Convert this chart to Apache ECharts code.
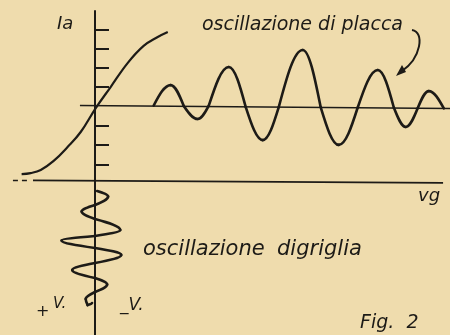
<!DOCTYPE html>
<html>
<head>
<meta charset="utf-8">
<script src="https://cdn.jsdelivr.net/npm/echarts@6/dist/echarts.min.js"></script>
<style>
  html, body { margin: 0; padding: 0; background: #efdcad; }
  #fig2 { width: 450px; height: 335px; }
</style>
</head>
<body>
<div id="fig2"></div>
<script>
  // Ia axis tick positions (mA, arbitrary units)
  const iaTicks = [-3, -2, -1, 1, 2, 3, 4];

  // characteristic curve Ia(Vg)
  const characteristic = [
    [-3.80, -3.50], [-3.33, -3.45], [-2.81, -3.29], [-2.14, -2.82],
    [-1.42, -2.10], [-0.74, -1.32], [0.04, -0.08], [0.81, 1.01],
    [1.69, 2.25], [2.52, 3.14], [3.25, 3.60], [3.77, 3.86]
  ];

  // plate oscillation: zero crossings and peaks, alternating
  const plateOsc = [
    [3.04, 0.05], [3.92, 1.11], [4.60, 0.03], [5.32, -0.65], [5.89, 0.03],
    [6.93, 2.05], [7.81, -0.03], [8.69, -1.74], [9.52, -0.03], [10.76, 2.93],
    [11.69, -0.03], [12.63, -1.99], [13.61, -0.05], [14.65, 1.89], [15.48, -0.05],
    [16.10, -1.06], [16.72, -0.08], [17.29, 0.80], [18.07, -0.10]
  ];

  // grid oscillation along the Ia axis: crossings and peaks, alternating
  const gridOsc = [
    [0.11, -4.38], [0.68, -4.66], [0, -5.10], [-0.69, -5.44], [0, -5.83],
    [1.31, -6.40], [0, -6.71], [-1.73, -6.94], [0, -7.33], [1.36, -7.69],
    [0, -8.11], [-1.18, -8.47], [0, -8.89], [0.63, -9.22], [0, -9.61],
    [-0.48, -9.97], [-0.38, -10.29], [-0.15, -10.18]
  ];

  // reference lines
  const plateZero = [[-0.78, 0.05], [18.39, -0.10]];
  const vgAxis = [[-3.21, -3.83], [18.03, -3.96]];
  const vgAxisDash = [[-4.25, -3.83], [-3.47, -3.83]];

  const ink = '#1d1b17';
  const myChart = echarts.init(document.getElementById('fig2'));

  function line(data, width, extra) {
    return Object.assign({
      type: 'line',
      data: data,
      symbol: 'none',
      silent: true,
      lineStyle: { color: ink, width: width }
    }, extra || {});
  }

  // sine-like wave through alternating crossing / peak nodes,
  // one bezier per pair of nodes; alongX = time runs along x
  function wave(nodes, alongX, width) {
    return {
      type: 'custom',
      data: nodes,
      silent: true,
      renderItem: function (params, api) {
        const i = params.dataIndex;
        if (i === 0) return { type: 'group', children: [] };
        const a = api.coord(nodes[i - 1]);
        const b = api.coord([api.value(0), api.value(1)]);
        const dx = b[0] - a[0];
        const dy = b[1] - a[1];
        const fromCross = (i - 1) % 2 === 0;
        let c1, c2;
        if (alongX) {
          c1 = fromCross ? [a[0] + 0.33 * dx, a[1] + 0.52 * dy] : [a[0] + 0.36 * dx, a[1]];
          c2 = fromCross ? [b[0] - 0.36 * dx, b[1]] : [b[0] - 0.33 * dx, b[1] - 0.52 * dy];
        } else {
          c1 = fromCross ? [a[0] + 0.52 * dx, a[1] + 0.33 * dy] : [a[0], a[1] + 0.36 * dy];
          c2 = fromCross ? [b[0], b[1] - 0.36 * dy] : [b[0] - 0.52 * dx, b[1] - 0.33 * dy];
        }
        return {
          type: 'bezierCurve',
          shape: {
            x1: a[0], y1: a[1], cpx1: c1[0], cpy1: c1[1],
            cpx2: c2[0], cpy2: c2[1], x2: b[0], y2: b[1]
          },
          style: { stroke: ink, lineWidth: width, fill: null, lineCap: 'round' }
        };
      }
    };
  }

  // x = left edge, base = text baseline
  function label(text, x, base, size) {
    return {
      type: 'text',
      silent: true,
      style: {
        text: text,
        x: x,
        y: base - Math.round(size * 0.82),
        fill: ink,
        font: 'italic ' + size + 'px "DejaVu Sans"'
      }
    };
  }

  myChart.setOption({
    backgroundColor: '#efdcad',
    animation: false,
    grid: { left: 0, right: 0, top: 11, bottom: 0 },
    xAxis: {
      type: 'value',
      min: -4.92,
      max: 18.39,
      show: false
    },
    yAxis: {
      type: 'value',
      min: -11.84,
      max: 4.95,
      axisLine: { show: true, onZero: true, lineStyle: { color: ink, width: 2 } },
      axisTick: {
        show: true,
        inside: true,
        length: 14,
        customValues: iaTicks,
        lineStyle: { color: ink, width: 2 }
      },
      axisLabel: { show: false },
      splitLine: { show: false }
    },
    series: [
      line(plateZero, 1.6),
      line(vgAxis, 1.8),
      line(vgAxisDash, 1.6, { lineStyle: { color: ink, width: 1.6, type: [5, 4] } }),
      line(characteristic, 2.2, { smooth: 0.4 }),
      wave(plateOsc, true, 2.6),
      wave(gridOsc, false, 2.6)
    ],
    graphic: [
      label('Ia', 57, 30, 18),
      label('oscillazione di placca', 202, 32, 19),
      label('vg', 418, 202, 18),
      label('oscillazione', 143, 256, 21),
      label('digriglia', 277, 256, 21),
      label('+', 36, 317, 16),
      label('V.', 53, 309, 15),
      label('_V.', 120, 311, 17),
      label('Fig.  2', 360, 330, 19),
      {
        type: 'bezierCurve',
        silent: true,
        shape: { x1: 412, y1: 30, cpx1: 425, cpy1: 32, cpx2: 421, cpy2: 58, x2: 402, y2: 71 },
        style: { stroke: ink, lineWidth: 2, fill: null }
      },
      {
        type: 'polygon',
        silent: true,
        shape: { points: [[396, 76], [406, 72], [402, 65]] },
        style: { fill: ink }
      }
    ]
  });
</script>
</body>
</html>
